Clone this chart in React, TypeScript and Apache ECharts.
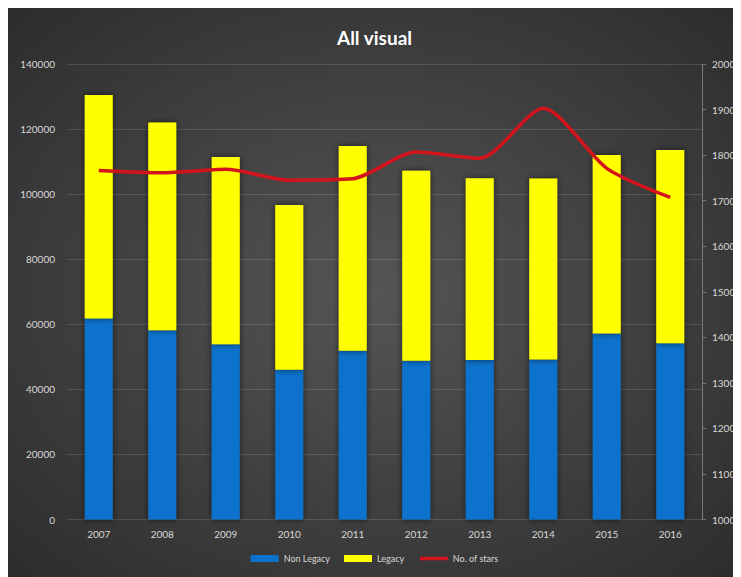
import React, { useEffect, useRef } from "react";
import * as echarts from "echarts";

const years = ["2007", "2008", "2009", "2010", "2011", "2012", "2013", "2014", "2015", "2016"];
const nonLegacy = [61800, 58200, 53900, 46000, 51900, 48800, 49000, 49200, 57200, 54200];
const legacy = [68700, 63800, 57500, 50700, 62900, 58400, 55900, 55600, 54800, 59400];
const stars = [1766, 1761, 1769, 1745, 1748, 1807, 1793, 1903, 1771, 1707];

const labelColor = "#d8d8d8";
const font = "Lato";

export default function App() {
  const ref = useRef<HTMLDivElement>(null);
  useEffect(() => {
    if (!ref.current) return;
    const chart = echarts.init(ref.current, undefined, { renderer: "svg" });
    chart.setOption({
      animation: false,
      backgroundColor: {
        type: "radial",
        x: 0.5,
        y: 0.5,
        r: 0.75,
        colorStops: [
          { offset: 0, color: "#555555" },
          { offset: 1, color: "#2a2a2a" },
        ],
      },
      title: {
        text: "All visual",
        left: "center",
        top: 15,
        textStyle: { color: "#ffffff", fontSize: 19, fontWeight: "bold", fontFamily: font },
      },
      grid: { left: 59, right: 39, top: 56, bottom: 57.5 },
      legend: {
        bottom: 9,
        left: "center",
        itemWidth: 28,
        itemHeight: 7,
        itemGap: 14,
        textStyle: { color: labelColor, fontSize: 9, fontFamily: font },
        data: [
          { name: "Non Legacy", icon: "rect" },
          { name: "Legacy", icon: "rect" },
          { name: "No. of stars", itemStyle: { opacity: 0 }, lineStyle: { width: 3.5 } },
        ],
      },
      xAxis: {
        type: "category",
        data: years,
        axisLine: { show: false },
        axisTick: { show: false },
        axisLabel: { color: labelColor, fontSize: 10, fontFamily: font, margin: 9 },
      },
      yAxis: [
        {
          type: "value",
          min: 0,
          max: 140000,
          interval: 20000,
          axisLine: { show: false },
          axisTick: { show: false },
          axisLabel: {
            color: labelColor,
            fontSize: 10,
            fontFamily: font,
            margin: 12,
            formatter: (v: number) => String(v),
          },
          splitLine: { lineStyle: { color: "rgba(255,255,255,0.13)", width: 1 } },
        },
        {
          type: "value",
          min: 1000,
          max: 2000,
          interval: 100,
          position: "right",
          axisLine: { show: true, lineStyle: { color: "#7a7a7a" } },
          axisTick: { show: true, length: 4, lineStyle: { color: "#7a7a7a" } },
          axisLabel: {
            color: labelColor,
            fontSize: 10,
            fontFamily: font,
            margin: 10,
            formatter: (v: number) => String(v),
          },
          splitLine: { show: false },
        },
      ],
      series: [
        {
          name: "Non Legacy",
          type: "bar",
          stack: "total",
          data: nonLegacy,
          barWidth: 28,
          itemStyle: {
            color: "#0a72cc",
            shadowColor: "rgba(0,0,0,0.6)",
            shadowBlur: 6,
          },
        },
        {
          name: "Legacy",
          type: "bar",
          stack: "total",
          data: legacy,
          barWidth: 28,
          itemStyle: {
            color: "#ffff00",
            shadowColor: "rgba(0,0,0,0.6)",
            shadowBlur: 6,
          },
        },
        {
          name: "No. of stars",
          type: "line",
          yAxisIndex: 1,
          data: stars,
          smooth: 0.25,
          symbol: "none",
          lineStyle: { color: "#d4141c", width: 3.5 },
          itemStyle: { color: "#d4141c" },
        },
      ],
    });
    return () => chart.dispose();
  }, []);
  return <div ref={ref} style={{ width: 733, height: 569 }} />;
}
